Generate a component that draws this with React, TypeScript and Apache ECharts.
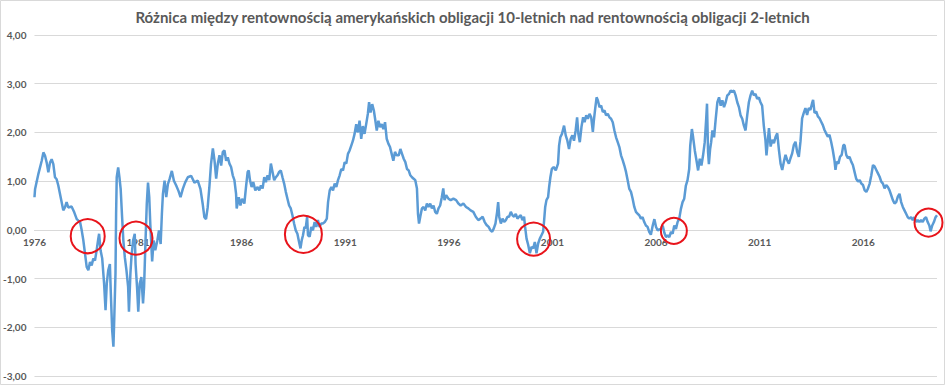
import { useEffect, useRef } from "react";
import * as echarts from "echarts";

// Data: first observation (June 1976) and last observation, as decimal years
const dataStart = 1976.42;
const dataEnd = 2019.98;
const labelYears = [1976, 1981, 1986, 1991, 1996, 2001, 2006, 2011, 2016];
const yMin = -3;
const yMax = 4;
const yStep = 1;

const titleText =
  "Różnica między rentownością amerykańskich obligacji 10-letnich nad rentownością obligacji 2-letnich";

// [decimal year, spread in percentage points]
const seg1976: [number, number][] = [
  [1976.42, 0.67], [1976.45, 0.84], [1976.61, 1.15], [1976.77, 1.42], [1976.85, 1.59], [1976.93, 1.52],
  [1977.01, 1.38], [1977.09, 1.18], [1977.17, 1.38], [1977.25, 1.45], [1977.33, 1.35], [1977.41, 1.08],
  [1977.49, 1.04], [1977.57, 0.91], [1977.65, 0.74], [1977.73, 0.57], [1977.81, 0.4], [1977.89, 0.46],
  [1977.97, 0.57], [1978.05, 0.46], [1978.21, 0.48], [1978.34, 0.36], [1978.46, 0.22], [1978.62, 0.16],
  [1978.7, -0.01], [1978.78, -0.22], [1978.86, -0.49], [1978.94, -0.76], [1979.02, -0.83], [1979.1, -0.66],
  [1979.18, -0.73], [1979.26, -0.59], [1979.34, -0.63], [1979.42, -0.42], [1979.5, -0.18], [1979.54, -0.08],
  [1979.61, -0.42], [1979.69, -0.59], [1979.78, -1.1], [1979.85, -1.65], [1979.91, -1.1], [1979.98, -0.83],
  [1980.06, -0.7], [1980.1, -1.24], [1980.17, -2.06], [1980.23, -2.4], [1980.26, -1.99], [1980.33, -0.9],
  [1980.36, 0.33], [1980.39, 1.08], [1980.46, 1.28], [1980.52, 1.08], [1980.58, 0.84], [1980.65, 0.26],
  [1980.71, -0.22], [1980.78, -0.56], [1980.86, -0.83], [1980.94, -1.17], [1980.98, -1.68], [1981.05, -0.9],
  [1981.1, -0.56], [1981.18, -0.22], [1981.26, -0.08], [1981.3, -0.7], [1981.37, -1.17], [1981.43, -1.68],
  [1981.5, -1.1], [1981.58, -0.97], [1981.66, -1.51], [1981.71, -1.17], [1981.77, -0.35], [1981.84, 0.53],
  [1981.9, 0.97], [1981.96, 0.67], [1982.01, 0.12], [1982.1, -0.65], [1982.17, -0.22], [1982.25, -0.42],
  [1982.35, -0.22], [1982.43, -0.01], [1982.51, -0.29], [1982.57, 0.33], [1982.62, 0.74], [1982.7, 1.01],
  [1982.78, 0.67], [1982.86, 0.94], [1982.94, 1.04], [1983.05, 1.21], [1983.15, 1.01], [1983.26, 0.91],
  [1983.37, 0.8], [1983.47, 0.67], [1983.58, 0.84], [1983.69, 0.97], [1983.82, 1.08], [1983.98, 1.11],
  [1984.14, 0.97], [1984.3, 1.01], [1984.43, 0.84], [1984.54, 0.53], [1984.62, 0.26], [1984.7, 0.22],
  [1984.78, 0.46], [1984.86, 0.87], [1984.94, 1.35],
];

const seg1985: [number, number][] = [
  [1985.03, 1.67], [1985.11, 1.42], [1985.19, 1.05], [1985.27, 1.36], [1985.35, 1.53], [1985.43, 1.32],
  [1985.51, 1.6], [1985.59, 1.63], [1985.67, 1.42], [1985.75, 1.49], [1985.83, 1.36], [1985.91, 1.29],
  [1985.99, 1.12], [1986.07, 1.02], [1986.15, 0.74], [1986.18, 0.44], [1986.28, 0.67], [1986.36, 0.5],
  [1986.44, 0.64], [1986.55, 0.54], [1986.63, 0.88], [1986.71, 1.19], [1986.76, 1.22], [1986.82, 1.02],
  [1986.9, 0.88], [1986.98, 0.98], [1987.08, 0.81], [1987.19, 0.88], [1987.27, 0.81], [1987.35, 0.91],
  [1987.43, 0.85], [1987.51, 1.08], [1987.59, 0.98], [1987.67, 1.12], [1987.75, 1.02], [1987.83, 1.36],
  [1987.91, 1.19], [1987.99, 1.02], [1988.07, 1.08], [1988.15, 1.12], [1988.23, 1.19], [1988.31, 1.22],
  [1988.39, 1.08], [1988.47, 0.95], [1988.55, 0.78], [1988.63, 0.64], [1988.71, 0.5], [1988.79, 0.44],
  [1988.87, 0.3], [1988.95, 0.13], [1989.03, -0.01], [1989.11, -0.08], [1989.19, -0.25], [1989.26, -0.38],
  [1989.32, -0.21], [1989.38, -0.11], [1989.45, 0.06], [1989.51, 0.03], [1989.58, 0.27], [1989.62, -0.11],
  [1989.7, -0.14], [1989.78, 0.06], [1989.86, -0.01], [1989.94, 0.16], [1990.02, 0.06], [1990.1, 0.2],
  [1990.18, 0.06], [1990.26, 0.13], [1990.34, 0.13], [1990.43, 0.16], [1990.53, 0.23], [1990.59, 0.57],
  [1990.67, 0.81], [1990.75, 0.88], [1990.83, 0.81], [1990.91, 0.95], [1990.99, 0.88], [1991.07, 1.02],
  [1991.15, 1.12], [1991.23, 1.25], [1991.31, 1.22], [1991.39, 1.39], [1991.47, 1.36], [1991.55, 1.56],
  [1991.63, 1.63], [1991.71, 1.73], [1991.79, 1.83], [1991.87, 1.97], [1991.95, 2.17], [1992.03, 2.0],
  [1992.11, 2.24], [1992.19, 1.87], [1992.27, 2.13], [1992.35, 1.97], [1992.43, 2.17], [1992.51, 2.38],
  [1992.57, 2.62], [1992.64, 2.41], [1992.72, 2.58], [1992.8, 2.45], [1992.86, 2.28], [1992.94, 2.04],
  [1993.02, 2.24], [1993.1, 2.11], [1993.18, 2.17], [1993.26, 2.07], [1993.34, 2.21], [1993.42, 1.87],
  [1993.5, 1.77], [1993.58, 1.7], [1993.66, 1.56], [1993.74, 1.42], [1993.82, 1.6], [1993.9, 1.53],
];

const seg1994: [number, number][] = [
  [1994.0, 1.53], [1994.08, 1.66], [1994.16, 1.56], [1994.24, 1.46], [1994.32, 1.39], [1994.4, 1.25],
  [1994.48, 1.22], [1994.56, 1.12], [1994.64, 1.08], [1994.72, 1.05], [1994.8, 1.02], [1994.88, 0.85],
  [1994.93, 0.33], [1994.98, 0.13], [1995.04, 0.27], [1995.12, 0.44], [1995.2, 0.47], [1995.28, 0.4],
  [1995.36, 0.54], [1995.44, 0.47], [1995.52, 0.54], [1995.6, 0.44], [1995.68, 0.5], [1995.76, 0.37],
  [1995.84, 0.33], [1995.92, 0.44], [1996.0, 0.5], [1996.08, 0.67], [1996.15, 0.85], [1996.21, 0.61],
  [1996.29, 0.71], [1996.4, 0.64], [1996.51, 0.61], [1996.64, 0.64], [1996.77, 0.61], [1996.88, 0.54],
  [1996.99, 0.5], [1997.12, 0.54], [1997.25, 0.47], [1997.36, 0.44], [1997.47, 0.4], [1997.6, 0.37],
  [1997.72, 0.27], [1997.84, 0.2], [1997.95, 0.23], [1998.05, 0.27], [1998.15, 0.16], [1998.24, 0.1],
  [1998.34, 0.06], [1998.43, -0.01], [1998.51, -0.04], [1998.59, 0.03], [1998.67, 0.13], [1998.75, 0.37],
  [1998.8, 0.57], [1998.85, 0.27], [1998.93, 0.13], [1999.01, 0.23], [1999.09, 0.16], [1999.17, 0.2],
  [1999.25, 0.27], [1999.33, 0.27], [1999.41, 0.37], [1999.49, 0.3], [1999.57, 0.27], [1999.65, 0.33],
  [1999.73, 0.23], [1999.81, 0.27], [1999.89, 0.3], [1999.97, 0.2], [2000.05, 0.27], [2000.1, 0.06],
  [2000.17, -0.18], [2000.25, -0.31], [2000.33, -0.48], [2000.41, -0.35], [2000.49, -0.38], [2000.57, -0.25],
  [2000.65, -0.48], [2000.73, -0.28], [2000.81, -0.18], [2000.89, -0.11], [2000.97, -0.04], [2001.02, 0.2],
  [2001.07, 0.47], [2001.13, 0.61], [2001.21, 0.67], [2001.26, 0.88], [2001.32, 1.08], [2001.39, 1.25],
  [2001.48, 1.29], [2001.58, 1.22], [2001.69, 1.36], [2001.74, 1.73], [2001.8, 1.9], [2001.88, 1.97],
  [2001.98, 2.14], [2002.06, 1.94], [2002.14, 1.83], [2002.22, 1.66], [2002.3, 1.87], [2002.38, 1.94],
  [2002.46, 1.83], [2002.54, 2.04], [2002.61, 2.31], [2002.67, 1.97], [2002.74, 1.8], [2002.82, 2.11],
  [2002.9, 2.31],
];

const seg2003: [number, number][] = [
  [2002.97, 2.21], [2003.05, 2.35], [2003.13, 2.28], [2003.21, 2.38], [2003.29, 2.31], [2003.37, 2.01],
  [2003.42, 2.25], [2003.48, 2.48], [2003.55, 2.72], [2003.61, 2.66], [2003.69, 2.52], [2003.77, 2.55],
  [2003.85, 2.42], [2003.93, 2.45], [2004.01, 2.35], [2004.09, 2.38], [2004.17, 2.31], [2004.25, 2.28],
  [2004.33, 2.21], [2004.41, 2.04], [2004.49, 1.9], [2004.57, 1.8], [2004.65, 1.7], [2004.73, 1.53],
  [2004.81, 1.43], [2004.89, 1.32], [2004.97, 1.19], [2005.05, 1.02], [2005.13, 0.84], [2005.21, 0.78],
  [2005.29, 0.64], [2005.37, 0.47], [2005.45, 0.37], [2005.53, 0.33], [2005.61, 0.3], [2005.69, 0.23],
  [2005.77, 0.26], [2005.85, 0.16], [2005.93, 0.09], [2006.01, 0.06], [2006.09, -0.04], [2006.17, -0.1],
  [2006.26, 0.09], [2006.34, 0.22], [2006.42, 0.06], [2006.5, -0.01], [2006.58, 0.01], [2006.66, 0.02],
  [2006.74, 0.09], [2006.82, -0.06], [2006.9, -0.15], [2006.98, -0.11], [2007.06, -0.15], [2007.14, -0.04],
  [2007.22, -0.08], [2007.3, 0.09], [2007.38, 0.02], [2007.46, 0.16], [2007.54, 0.23], [2007.62, 0.43],
  [2007.7, 0.57], [2007.78, 0.64], [2007.86, 0.91], [2007.94, 1.02], [2008.02, 1.25], [2008.07, 1.73],
  [2008.15, 2.07], [2008.21, 1.9], [2008.29, 1.63], [2008.37, 1.43], [2008.45, 1.22], [2008.53, 1.46],
  [2008.61, 1.32], [2008.69, 1.53], [2008.77, 1.8], [2008.84, 2.28], [2008.88, 2.59], [2008.93, 1.6],
  [2008.97, 1.35], [2009.03, 1.66], [2009.08, 1.8], [2009.14, 2.04], [2009.22, 1.9], [2009.3, 2.28],
  [2009.38, 2.62], [2009.46, 2.72], [2009.54, 2.55], [2009.62, 2.66], [2009.7, 2.52], [2009.78, 2.62],
  [2009.86, 2.76], [2009.94, 2.79], [2010.02, 2.86], [2010.1, 2.83], [2010.18, 2.86], [2010.26, 2.76],
  [2010.34, 2.62], [2010.42, 2.52], [2010.5, 2.35], [2010.58, 2.28], [2010.66, 2.14], [2010.74, 2.04],
  [2010.82, 2.35], [2010.9, 2.62], [2010.98, 2.76], [2011.06, 2.86], [2011.14, 2.76], [2011.22, 2.79],
  [2011.3, 2.69], [2011.38, 2.72], [2011.46, 2.62], [2011.54, 2.55], [2011.62, 2.14], [2011.7, 1.84],
  [2011.75, 1.53],
];

const seg2012: [number, number][] = [
  [2011.87, 2.09], [2011.95, 1.71], [2012.03, 1.85], [2012.11, 1.78], [2012.19, 1.91], [2012.27, 1.98],
  [2012.35, 1.64], [2012.43, 1.36], [2012.51, 1.23], [2012.59, 1.4], [2012.67, 1.54], [2012.75, 1.43],
  [2012.83, 1.36], [2012.91, 1.47], [2012.99, 1.57], [2013.07, 1.74], [2013.15, 1.81], [2013.23, 1.6],
  [2013.31, 1.5], [2013.39, 1.81], [2013.47, 2.29], [2013.55, 2.4], [2013.63, 2.5], [2013.71, 2.36],
  [2013.79, 2.5], [2013.87, 2.46], [2013.95, 2.6], [2014.0, 2.67], [2014.07, 2.4], [2014.15, 2.43],
  [2014.23, 2.33], [2014.31, 2.29], [2014.39, 2.22], [2014.47, 2.15], [2014.55, 2.05], [2014.63, 1.98],
  [2014.71, 1.91], [2014.79, 1.95], [2014.87, 1.81], [2014.95, 1.64], [2015.03, 1.43], [2015.08, 1.23],
  [2015.14, 1.4], [2015.22, 1.36], [2015.3, 1.5], [2015.38, 1.54], [2015.46, 1.74], [2015.52, 1.74],
  [2015.6, 1.54], [2015.68, 1.47], [2015.76, 1.5], [2015.84, 1.4], [2015.92, 1.33], [2016.0, 1.19],
  [2016.08, 1.05], [2016.17, 0.99], [2016.25, 1.02], [2016.33, 0.95], [2016.41, 0.92], [2016.49, 0.81],
  [2016.57, 0.78], [2016.65, 0.85], [2016.73, 0.95], [2016.81, 1.12], [2016.89, 1.33], [2016.97, 1.3],
  [2017.05, 1.23], [2017.13, 1.16], [2017.21, 1.09], [2017.29, 0.99], [2017.37, 0.95], [2017.45, 0.85],
  [2017.53, 0.92], [2017.61, 0.88], [2017.69, 0.81], [2017.77, 0.71], [2017.85, 0.61], [2017.93, 0.54],
  [2018.01, 0.57], [2018.09, 0.68], [2018.17, 0.74], [2018.25, 0.57], [2018.33, 0.47], [2018.41, 0.4],
  [2018.49, 0.33], [2018.57, 0.26], [2018.65, 0.23], [2018.73, 0.26], [2018.81, 0.2], [2018.89, 0.26],
  [2018.97, 0.16], [2019.05, 0.2], [2019.13, 0.16], [2019.21, 0.2], [2019.29, 0.16], [2019.37, 0.23],
  [2019.45, 0.26], [2019.53, 0.16], [2019.61, 0.09], [2019.67, -0.03], [2019.75, 0.09], [2019.83, 0.16],
  [2019.91, 0.26], [2019.98, 0.3],
];

// Inversion episodes highlighted with red circles: [decimal year, spread]
const inversionCenters: [number, number][] = [
  [1978.99, -0.13],
  [1981.32, -0.17],
  [1989.4, -0.09],
  [2000.51, -0.19],
  [2007.28, -0.02],
  [2019.57, 0.15],
];
const circleSizes = [34, 33, 37, 33, 26, 28];

const FONT = "Lato, 'Liberation Sans', Arial, sans-serif";
const W = 945;
const H = 385;
const GRID = { left: 31, right: 8, top: 35, bottom: 9 };

export default function App() {
  const ref = useRef<HTMLDivElement>(null);

  useEffect(() => {
    document.body.style.margin = "0";
    if (!ref.current) return;
    const chart = echarts.init(ref.current, undefined, { renderer: "svg" });
    const series = [...seg1976, ...seg1985, ...seg1994, ...seg2003, ...seg2012];
    const labelValues = labelYears.map((y) => dataStart + (y - labelYears[0]));

    // place the date axis on the zero line of the value axis
    const gridHeight = H - GRID.top - GRID.bottom;
    const zeroFromBottom = (gridHeight * (0 - yMin)) / (yMax - yMin);

    chart.setOption({
      animation: false,
      backgroundColor: "#ffffff",
      title: {
        text: titleText,
        left: "center",
        top: 9,
        padding: 0,
        textStyle: {
          fontFamily: FONT,
          fontSize: 15,
          fontWeight: "bold",
          color: "#595959",
        },
      },
      graphic: [
        {
          type: "rect",
          shape: { x: 0.5, y: 0.5, width: W - 1, height: H - 1 },
          style: { fill: "none", stroke: "#d9d9d9", lineWidth: 1 },
          silent: true,
        },
      ],
      grid: { ...GRID, containLabel: false },
      xAxis: {
        type: "value",
        position: "bottom",
        offset: -zeroFromBottom,
        min: dataStart,
        max: dataEnd,
        axisLine: { show: true, onZero: false, lineStyle: { color: "#d9d9d9", width: 1 } },
        axisTick: { show: false },
        splitLine: { show: false },
        axisLabel: {
          customValues: labelValues,
          formatter: (v: number) => String(Math.floor(v + 1e-6)),
          fontFamily: FONT,
          fontSize: 10,
          fontWeight: "bold",
          color: "#595959",
          margin: 7,
        },
      },
      yAxis: {
        type: "value",
        min: yMin,
        max: yMax,
        interval: yStep,
        axisLine: { show: false, onZero: false },
        axisTick: { show: false },
        splitLine: { lineStyle: { color: "#d9d9d9", width: 1 } },
        axisLabel: {
          formatter: (v: number) => v.toFixed(2).replace(".", ","),
          fontFamily: FONT,
          fontSize: 10,
          fontWeight: "bold",
          color: "#595959",
          margin: 8,
        },
      },
      series: [
        {
          type: "line",
          data: series,
          showSymbol: false,
          symbol: "none",
          silent: true,
          lineStyle: { color: "#5b9bd5", width: 2.5 },
          markPoint: {
            silent: true,
            symbol: "circle",
            label: { show: false },
            itemStyle: { color: "rgba(0,0,0,0)", borderColor: "#e8141b", borderWidth: 2 },
            data: inversionCenters.map((c, i) => ({
              coord: c,
              symbolSize: circleSizes[i],
            })),
          },
        },
      ],
    });
    return () => chart.dispose();
  }, []);

  return (
    <div
      ref={ref}
      style={{ position: "absolute", left: 0, top: 0, width: W, height: H }}
    />
  );
}
